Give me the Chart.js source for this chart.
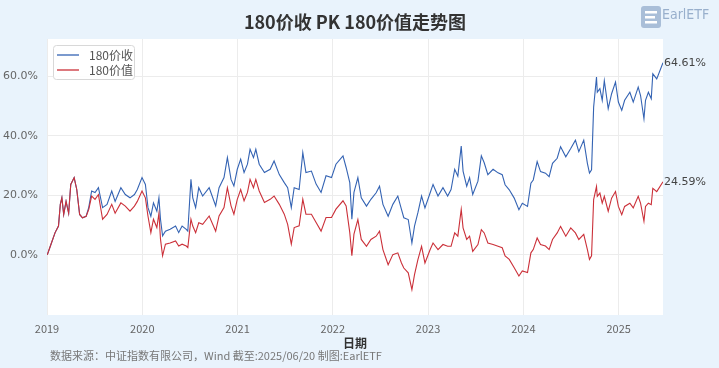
<!DOCTYPE html>
<html>
<head>
<meta charset="utf-8">
<script src="https://cdn.jsdelivr.net/npm/chart.js@4.4.1/dist/chart.umd.min.js"></script>
<style>
  body { margin: 0; background: #e9f3fc; }
  #wrap { position: relative; width: 719px; height: 368px; }
</style>
</head>
<body>
<div id="wrap"><canvas id="chart"></canvas></div>
<script>
// Data (cumulative return, %)
const dates = [
  "2019-01-02", "2019-01-14", "2019-02-01", "2019-02-14", "2019-02-21", "2019-02-27", "2019-03-06", "2019-03-15",
  "2019-03-25", "2019-04-02", "2019-04-15", "2019-04-25", "2019-05-06", "2019-05-17", "2019-05-31", "2019-06-10",
  "2019-06-21", "2019-07-04", "2019-07-17", "2019-08-02", "2019-08-19", "2019-09-06", "2019-09-19", "2019-10-11",
  "2019-10-28", "2019-11-15", "2019-12-02", "2019-12-13", "2019-12-31", "2020-01-13", "2020-01-23", "2020-02-03",
  "2020-02-13", "2020-02-26", "2020-03-05", "2020-03-11", "2020-03-19", "2020-03-30", "2020-04-17", "2020-05-08",
  "2020-05-20", "2020-06-02", "2020-06-18", "2020-06-24", "2020-07-06", "2020-07-13", "2020-07-24", "2020-08-05",
  "2020-08-20", "2020-09-14", "2020-10-09", "2020-10-22", "2020-11-10", "2020-11-23", "2020-12-07", "2020-12-18",
  "2020-12-31", "2021-01-13", "2021-01-26", "2021-02-08", "2021-02-18", "2021-03-03", "2021-03-12", "2021-03-25",
  "2021-04-14", "2021-05-06", "2021-05-21", "2021-06-10", "2021-06-29", "2021-07-12", "2021-07-26", "2021-08-06",
  "2021-08-25", "2021-09-08", "2021-09-20", "2021-10-11", "2021-10-29", "2021-11-17", "2021-12-06", "2021-12-27",
  "2022-01-13", "2022-02-09", "2022-02-21", "2022-03-07", "2022-03-15", "2022-03-23", "2022-04-07", "2022-04-20",
  "2022-05-10", "2022-05-27", "2022-06-16", "2022-06-29", "2022-07-12", "2022-08-01", "2022-08-19", "2022-09-07",
  "2022-09-21", "2022-09-30", "2022-10-17", "2022-10-31", "2022-11-10", "2022-11-23", "2022-12-07", "2022-12-20",
  "2023-01-09", "2023-01-20", "2023-02-08", "2023-02-27", "2023-03-17", "2023-03-30", "2023-04-13", "2023-04-25",
  "2023-05-08", "2023-05-15", "2023-05-29", "2023-06-09", "2023-06-21", "2023-07-11", "2023-07-24", "2023-08-04",
  "2023-08-18", "2023-09-07", "2023-09-26", "2023-10-12", "2023-10-23", "2023-11-08", "2023-11-27", "2023-12-15",
  "2023-12-28", "2024-01-17", "2024-01-30", "2024-02-08", "2024-02-23", "2024-03-07", "2024-03-26", "2024-04-09",
  "2024-04-22", "2024-05-10", "2024-05-23", "2024-06-12", "2024-07-01", "2024-07-19", "2024-08-01", "2024-08-20",
  "2024-09-03", "2024-09-11", "2024-09-19", "2024-09-27", "2024-10-08", "2024-10-11", "2024-10-21", "2024-10-30",
  "2024-11-07", "2024-11-22", "2024-12-05", "2024-12-20", "2024-12-31", "2025-01-13", "2025-01-24", "2025-02-13",
  "2025-02-26", "2025-03-17", "2025-03-26", "2025-04-08", "2025-04-14", "2025-04-25", "2025-05-06", "2025-05-12",
  "2025-05-27", "2025-06-20"
];

// 180价收
const shouValues = [
  0, 3, 7.5, 9.7, 17, 19.2, 13.6, 18,
  14, 23.7, 26, 22, 13.6, 12.5, 13, 16,
  21.5, 21, 22.6, 15.9, 17, 21.5, 18, 22.6,
  20.3, 19.2, 20.3, 22, 26, 23.7, 15.9, 13,
  17.5, 14.7, 19.2, 12, 6.4, 8, 8.6, 9.7,
  7.5, 9.7, 8.6, 8, 25.4, 19.2, 15.9, 22.6,
  19.8, 22.6, 16.5, 22.6, 26, 32.7, 25.4, 23.2,
  28.8, 32.2, 27.7, 30.5, 35.5, 32.7, 35.5, 30.5,
  27.7, 28.8, 31.6, 27, 24.3, 22.6, 15.9, 22.6,
  22, 34.4, 27.7, 28.2, 23.8, 21, 26.6, 26,
  30.5, 33.3, 29.4, 24.3, 12, 21, 26, 19.2,
  16.4, 18.7, 20.9, 23.1, 17, 13, 17, 19.8,
  15.3, 12.5, 11.9, 4, 9.7, 14.2, 19.8, 15.8,
  20.9, 23.7, 19.8, 22.6, 19.8, 22, 28.8, 26.5,
  36.6, 28.2, 23.1, 26, 20.3, 24.8, 33.3, 31,
  27, 28.8, 27.6, 27, 23.6, 21.9, 19.1, 15.2,
  17.4, 16.3, 24.1, 25.2, 31.4, 28, 27.5, 26.3,
  30.8, 32.5, 36.4, 33, 35.8, 38.6, 34.7, 38.6,
  30.8, 27.5, 28.6, 49.7, 59.8, 54.7, 55.9, 52,
  58.6, 49.2, 54.2, 58.1, 51.4, 48.6, 52, 54.7,
  51.4, 56.4, 53.6, 45.8, 52, 54.7, 52.5, 60.9,
  59.2, 64.61
];

// 180价值
const zhiValues = [
  0, 3, 7.5, 9.7, 17, 19.2, 13.6, 18,
  14, 23.7, 26, 22, 13.6, 12.5, 13, 15.3,
  19.8, 18.7, 20.3, 12, 13.6, 17, 14, 17.5,
  16.4, 14.7, 16.4, 18, 21.5, 19.2, 13, 7.5,
  12, 9.2, 14, 5.3, -0.3, 3.6, 4, 4.7,
  3, 3.6, 3, 2.5, 12, 9.7, 7.5, 10.8,
  10.3, 13.1, 8, 13.1, 15.9, 22.6, 16.5, 13.7,
  18.7, 22, 18.2, 21, 25.4, 22.6, 25.4, 21.5,
  17.6, 18.7, 19.8, 17, 13.7, 10.3, 3.6, 9.2,
  9.8, 18.7, 13.7, 13.7, 10.9, 8, 12.6, 12.6,
  15.4, 18.2, 16.5, 7.5, -0.3, 7, 11.9, 5.2,
  2.9, 5.2, 6.3, 8, 1.8, -3.3, 0.1, 0.7,
  -2.7, -4.4, -6, -11.7, -6.6, -1.6, 2.9, -2.7,
  1.8, 4, 1.8, 3.5, 2.9, 2.9, 7.4, 6.3,
  15.3, 9.1, 5.2, 6.3, 1.2, 3.5, 8.5, 7.4,
  4, 3.5, 2.9, 2.4, -0.3, -1.5, -4.3, -7.1,
  -5.4, -5.9, 0.7, 1.8, 5.7, 3.5, 3, 1.8,
  5.2, 7.4, 9.6, 6.3, 9.1, 7.4, 5.2, 6.9,
  1.8, -1.5, -0.3, 18.6, 23, 19.7, 20.8, 17.4,
  19.7, 14.7, 19.1, 21.3, 16.3, 13.5, 16.3, 17.4,
  15.8, 19.7, 17.4, 11.3, 16.3, 17.4, 16.9, 22.4,
  21.3, 24.59
];

const yTicks = [0, 20, 40, 60];
const xYears = [2019, 2020, 2021, 2022, 2023, 2024, 2025];

const blue = "#3463b3";
const red = "#cb3039";

// date string -> decimal year, for the linear x axis
function toYear(s) {
  const p = s.split("-").map(Number);
  const start = Date.UTC(p[0], 0, 1);
  const end = Date.UTC(p[0] + 1, 0, 1);
  return p[0] + (Date.UTC(p[0], p[1] - 1, p[2]) - start) / (end - start);
}

const xs = dates.map(toYear);
const shouPts = xs.map((x, i) => ({ x: x, y: shouValues[i] }));
const zhiPts = xs.map((x, i) => ({ x: x, y: zhiValues[i] }));

const cjk = '"Noto Sans CJK SC", "Noto Sans", sans-serif';

// white plot background + texts around the chart
const decor = {
  id: "decor",
  beforeDraw(chart) {
    const { ctx, chartArea } = chart;
    ctx.save();
    ctx.fillStyle = "#ffffff";
    ctx.fillRect(chartArea.left, chartArea.top, chartArea.right - chartArea.left, chartArea.bottom - chartArea.top);
    ctx.restore();
  },
  afterDraw(chart) {
    const { ctx, chartArea } = chart;
    const cx = (chartArea.left + chartArea.right) / 2;
    ctx.save();

    // title
    ctx.fillStyle = "#333333";
    ctx.font = "bold 18px " + cjk;
    ctx.textAlign = "center";
    ctx.textBaseline = "middle";
    ctx.fillText("180价收 PK 180价值走势图", cx, 22);

    // axis title
    ctx.font = "bold 12px " + cjk;
    ctx.fillText("日期", cx, 343);

    // footer
    ctx.fillStyle = "#777777";
    ctx.font = "11px " + cjk;
    ctx.textAlign = "left";
    ctx.fillText("数据来源：中证指数有限公司，Wind 截至:2025/06/20 制图:EarlETF", 50, 356);

    // logo
    ctx.fillStyle = "#a9bed8";
    ctx.beginPath();
    ctx.roundRect(641, 6, 20, 22, 3);
    ctx.fill();
    ctx.fillStyle = "#ffffff";
    ctx.fillRect(645, 11, 12, 2.5);
    ctx.fillRect(645, 16, 10, 2.5);
    ctx.fillRect(645, 21, 12, 2.5);
    ctx.fillStyle = "#98afcc";
    ctx.font = '14px "DejaVu Sans Condensed", sans-serif';
    ctx.fillText("EarlETF", 662, 15);

    // legend
    ctx.fillStyle = "rgba(255,255,255,0.9)";
    ctx.strokeStyle = "#d8d8d8";
    ctx.lineWidth = 1;
    ctx.beginPath();
    ctx.roundRect(53.5, 45.5, 81, 34, 3);
    ctx.fill();
    ctx.stroke();
    const items = [["180价收", blue], ["180价值", red]];
    items.forEach((it, i) => {
      const y = 55 + i * 15;
      ctx.strokeStyle = it[1];
      ctx.lineWidth = 1.3;
      ctx.beginPath();
      ctx.moveTo(57, y);
      ctx.lineTo(79, y);
      ctx.stroke();
      ctx.fillStyle = "#555555";
      ctx.font = "12px " + cjk;
      ctx.fillText(it[0], 89, y);
    });

    // end labels
    ctx.font = '11px "DejaVu Sans", sans-serif';
    ctx.fillStyle = "#444444";
    chart.data.datasets.forEach((ds, i) => {
      const meta = chart.getDatasetMeta(i);
      const last = meta.data[meta.data.length - 1];
      const v = ds.data[ds.data.length - 1].y;
      ctx.fillText(v.toFixed(2) + "%", last.x + 1, last.y);
    });
    ctx.restore();
  }
};

new Chart(document.getElementById("chart"), {
  type: "line",
  data: {
    datasets: [
      {
        label: "180价收",
        data: shouPts,
        borderColor: blue,
        borderWidth: 1.1,
        pointRadius: 0,
        tension: 0,
        order: 1,
      },
      {
        label: "180价值",
        data: zhiPts,
        borderColor: red,
        borderWidth: 1.1,
        pointRadius: 0,
        tension: 0,
        order: 0,
      },
    ],
  },
  options: {
    responsive: true,
    maintainAspectRatio: false,
    animation: false,
    layout: { padding: { top: 39, right: 56, left: 0, bottom: 0 } },
    scales: {
      x: {
        type: "linear",
        min: 2019,
        max: xs[xs.length - 1],
        afterFit: (scale) => { scale.height = 53; },
        afterBuildTicks: (scale) => { scale.ticks = xYears.map((v) => ({ value: v })); },
        grid: { color: "#ececec", drawTicks: false },
        border: { display: false },
        ticks: {
          padding: 7,
          color: "#666666",
          font: { size: 11, family: cjk },
          callback: (v) => String(v),
        },
      },
      y: {
        min: -20.2,
        max: 72.6,
        afterFit: (scale) => { scale.width = 47; },
        afterBuildTicks: (scale) => { scale.ticks = yTicks.map((v) => ({ value: v })); },
        grid: { color: "#ececec", drawTicks: false },
        border: { display: false },
        ticks: {
          padding: 9,
          color: "#666666",
          font: { size: 11, family: '"DejaVu Sans", sans-serif' },
          callback: (v) => v.toFixed(1) + "%",
        },
      },
    },
    plugins: {
      legend: { display: false },
      tooltip: { enabled: false },
    },
  },
  plugins: [decor],
});
</script>
</body>
</html>
